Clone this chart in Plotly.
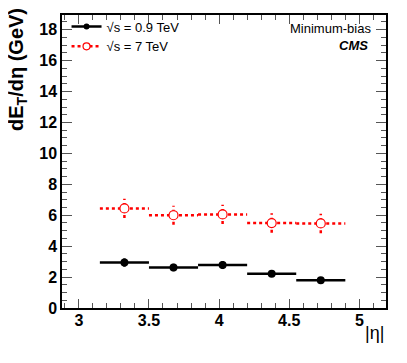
import plotly.graph_objs as go

# eta bins (edges) and measured dE_T/deta
eta_lo = [3.15, 3.50, 3.85, 4.20, 4.55]
eta_hi = [3.50, 3.85, 4.20, 4.55, 4.90]
eta_mid = [3.325, 3.675, 4.025, 4.375, 4.725]

et_09 = [2.94, 2.62, 2.78, 2.22, 1.80]
err_09 = [0.27, 0.24, 0.26, 0.17, 0.14]

et_7 = [6.44, 6.00, 6.05, 5.49, 5.47]
err_7 = [0.62, 0.62, 0.62, 0.63, 0.63]


def hsegs(lo, hi, y):
    xs, ys = [], []
    for a, b, v in zip(lo, hi, y):
        xs += [a, b, None]
        ys += [v, v, None]
    return xs, ys


def vsegs(x, y, e):
    xs, ys = [], []
    for c, v, d in zip(x, y, e):
        xs += [c, c, None]
        ys += [v - d, v + d, None]
    return xs, ys


fig = go.Figure()

# 0.9 TeV
hx, hy = hsegs(eta_lo, eta_hi, et_09)
vx, vy = vsegs(eta_mid, et_09, err_09)
fig.add_trace(go.Scatter(x=hx, y=hy, mode="lines", line=dict(color="black", width=2.5),
                         showlegend=False, hoverinfo="skip"))
fig.add_trace(go.Scatter(x=vx, y=vy, mode="lines", line=dict(color="black", width=2.5),
                         showlegend=False, hoverinfo="skip"))
fig.add_trace(go.Scatter(x=eta_mid, y=et_09, mode="markers",
                         marker=dict(color="black", size=8, symbol="circle"),
                         showlegend=False))

# 7 TeV
hx, hy = hsegs(eta_lo, eta_hi, et_7)
vx, vy = vsegs(eta_mid, et_7, err_7)
fig.add_trace(go.Scatter(x=hx, y=hy, mode="lines", line=dict(color="red", width=2.5, dash="dot"),
                         showlegend=False, hoverinfo="skip"))
fig.add_trace(go.Scatter(x=vx, y=vy, mode="lines", line=dict(color="red", width=2.5, dash="dot"),
                         showlegend=False, hoverinfo="skip"))
fig.add_trace(go.Scatter(x=eta_mid, y=et_7, mode="markers",
                         marker=dict(color="white", size=9, symbol="circle",
                                     line=dict(color="red", width=1.2)),
                         showlegend=False))

# legend entries
fig.add_trace(go.Scatter(x=[None], y=[None], mode="lines+markers", name="√s = 0.9 TeV",
                         line=dict(color="black", width=2.5),
                         marker=dict(color="black", size=6)))
fig.add_trace(go.Scatter(x=[None], y=[None], mode="lines+markers", name="√s = 7 TeV",
                         line=dict(color="red", width=2.5, dash="dot"),
                         marker=dict(color="white", size=7, line=dict(color="red", width=1.2))))

axis_common = dict(
    showline=True, linecolor="black", linewidth=1.5, mirror="allticks",
    ticks="inside", tickcolor="#555", tickwidth=1.2,
    showgrid=False, zeroline=False,
    tickfont=dict(family="Liberation Sans", size=16, color="black", weight="bold"),
)

fig.update_xaxes(range=[2.88, 5.19], tickvals=[3, 3.5, 4, 4.5, 5],
                 ticktext=["3", "3.5", "4", "4.5", "5"], ticklen=9,
                 ticklabelstandoff=-3,
                 minor=dict(ticks="inside", dtick=0.1, tick0=3, ticklen=5,
                            tickcolor="#555", tickwidth=1.2),
                 **axis_common)
fig.update_yaxes(range=[0, 18.95], dtick=2, ticklen=10,
                 minor=dict(ticks="inside", dtick=0.5, ticklen=5,
                            tickcolor="#555", tickwidth=1.2),
                 **axis_common)

# page body adds an 8px margin, so the figure is 16px smaller than the window
fig.update_layout(
    width=391, height=347,
    margin=dict(l=54, r=13, t=3, b=47),
    plot_bgcolor="white", paper_bgcolor="white",
    font=dict(family="Liberation Sans", color="black"),
    legend=dict(x=0.014, y=1.012, xanchor="left", yanchor="top",
                font=dict(size=13), bgcolor="rgba(0,0,0,0)",
                itemwidth=30, tracegroupgap=0),
    annotations=[
        dict(text="dE<sub>T</sub>/dη (GeV)", textangle=-90, xref="paper", yref="paper",
             x=-0.138, y=1.03, xanchor="center", yanchor="top", showarrow=False,
             font=dict(size=20, weight="bold")),
        dict(text="|η|", xref="paper", yref="paper", x=1.0, y=-0.084,
             xanchor="right", yanchor="middle", showarrow=False, font=dict(size=18)),
        dict(text="Minimum-bias", xref="paper", yref="paper", x=0.96, y=0.985,
             xanchor="right", yanchor="top", showarrow=False, font=dict(size=13)),
        dict(text="<b><i>CMS</i></b>", xref="paper", yref="paper", x=0.9, y=0.93,
             xanchor="center", yanchor="top", showarrow=False, font=dict(size=13)),
    ],
)

fig.write_html("out.html")
